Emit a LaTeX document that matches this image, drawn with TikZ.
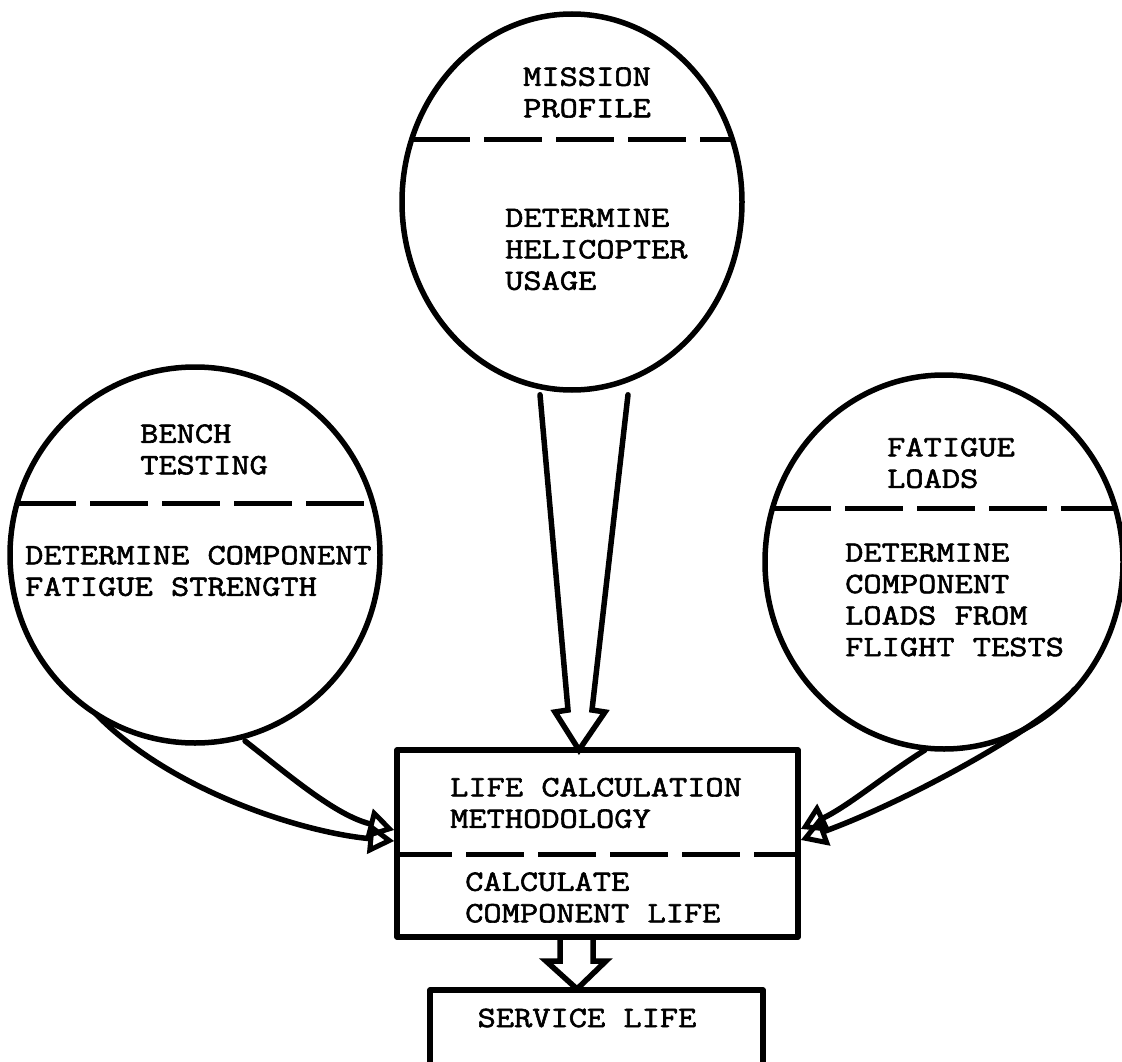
\documentclass[tikz,border=0pt]{standalone}
\usepackage{fontspec}
\newfontfamily\tw{Latin Modern Mono}[FakeStretch=1.2, FakeBold=2]
\usetikzlibrary{shapes.geometric,arrows.meta,calc}
\begin{document}
\begin{tikzpicture}[x=1pt,y=-1pt,
  ink/.style={line width=5.5pt, line join=round, line cap=round},
  bubble/.style={ellipse, draw, ink, inner sep=0pt},
  divider/.style={line width=5pt, line cap=butt, dash pattern=on 58pt off 14pt},
  label/.style={font=\tw\fontsize{29.5}{31.5}\selectfont, align=left, inner sep=0pt, anchor=west},
  curvearrow/.style={ink, -{Triangle[open, length=26pt, width=30pt, line width=5pt]}}]
\useasboundingbox (0,0) rectangle (1122,1062);
\clip (0,0) rectangle (1122,1062);

% bubbles
\node[bubble, minimum width=340pt, minimum height=376pt] (mp) at (572,202) {};
\node[bubble, minimum width=370pt, minimum height=376pt] (bt) at (195,555) {};
\node[bubble, minimum width=358pt, minimum height=374pt] (fl) at (944,562) {};

% dividers in bubbles
\draw[divider] ($(mp.center)+(-160,-62)$) -- ($(mp.center)+(161,-62)$);
\draw[divider] ($(bt.center)+(-177,-52)$) -- ($(bt.center)+(178,-52)$);
\draw[divider] ($(fl.center)+(-171,-54)$) -- ($(fl.center)+(173,-54)$);

% bubble texts
\node[label] (mpt) at (523,92.5) {MISSION\\PROFILE};
\node[label] (mpb) at (505,249.5) {DETERMINE\\HELICOPTER\\USAGE};
\node[label] (btt) at (140,449.5) {BENCH\\TESTING};
\node[label] (btb) at (25,571) {DETERMINE COMPONENT\\FATIGUE STRENGTH};
\node[label] (flt) at (887,463) {FATIGUE\\LOADS};
\node[label] (flb) at (845,600) {DETERMINE\\COMPONENT\\LOADS FROM\\FLIGHT TESTS};

% life calculation box
\node[draw, ink, line cap=butt, minimum width=401pt, minimum height=187pt, inner sep=0pt] (lc) at (597.5,843.5) {};
\draw[divider] (lc.west |- 0,854) -- (lc.east |- 0,854);
\node[label] (lct) at (450,803) {LIFE CALCULATION\\METHODOLOGY};
\node[label] (lcb) at (465,897.5) {CALCULATE\\COMPONENT LIFE};

% service life box (open at bottom, runs off the page)
\node[font=\tw\fontsize{29.5}{31.5}\selectfont, inner sep=0pt] (sl) at (587,1018) {SERVICE LIFE};
\coordinate (slnw) at (430,990);
\coordinate (slne) at (763,990);
\draw[ink, line cap=butt] (slnw |- 0,1080) -- (slnw) -- (slne) -- (slne |- 0,1080);

% hollow arrow from mission profile to life calculation
\coordinate (a1) at ($(mp.south)+(-32,2)$);
\coordinate (a2) at ($(mp.south)+(56,2)$);
\coordinate (atip) at (579,750);
\draw[ink, line join=miter] (a1) -- (568,710) -- (555,712) -- (atip) -- (605,712) -- (592,710) -- (a2);

% hollow arrow from life calculation to service life
\draw[ink, line join=miter] (560,937) -- (560,961) -- (546,961) -- (577,989) -- (606,961) -- (593,961) -- (593,937);

% curved arrows from bench testing
\coordinate (b1) at (96,714);
\coordinate (b2) at (245,741);
\draw[curvearrow] (b1) .. controls (170,790) and (300,832) .. (lc.west |- 0,841);
\draw[curvearrow] (b2) .. controls (290,776) and (335,815) .. (lc.west |- 0,830);

% curved arrows from fatigue loads
\coordinate (f1) at (1075,689);
\coordinate (f2) at (925,750);
\draw[curvearrow] (f1) .. controls (1040,728) and (910,800) .. (lc.east |- 0,840);
\draw[curvearrow] (f2) .. controls (885,775) and (850,805) .. (lc.east |- 0,829);
\end{tikzpicture}
\end{document}
